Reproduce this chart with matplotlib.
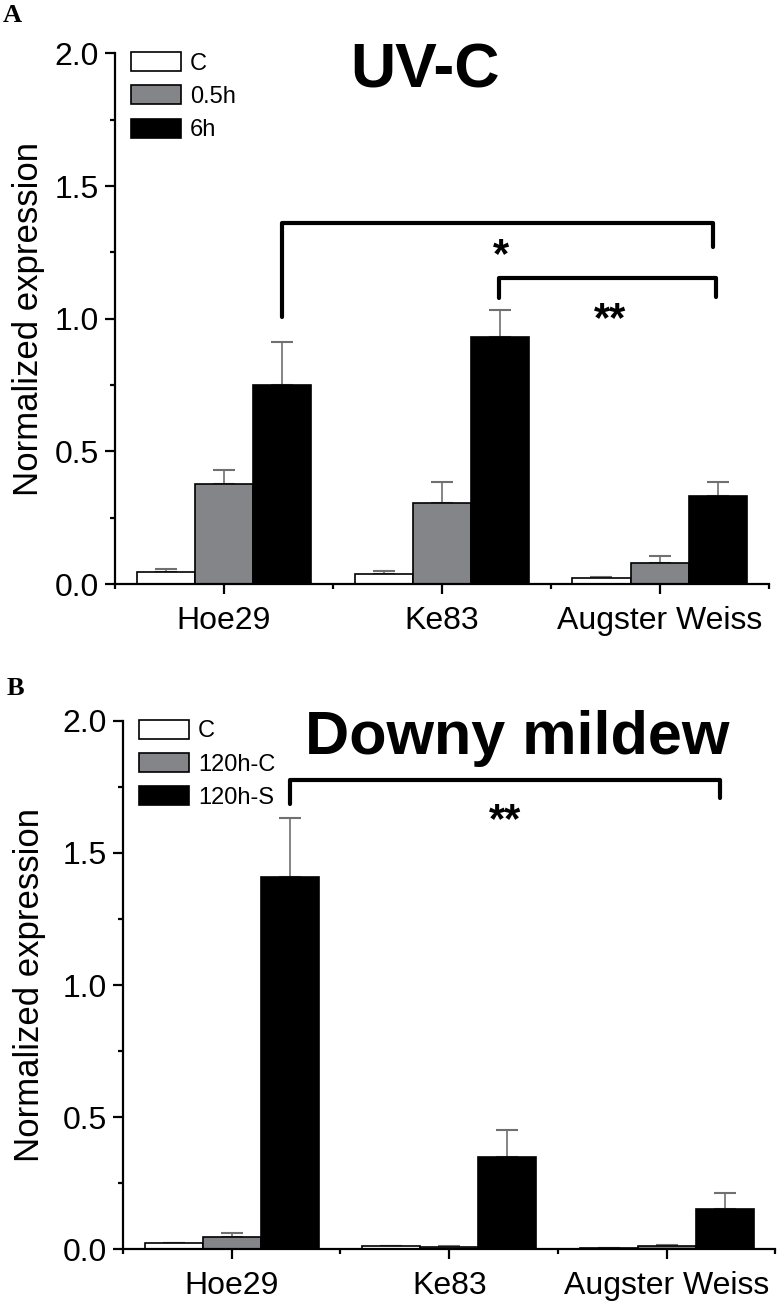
import numpy as np
import matplotlib
matplotlib.use('Agg')
import matplotlib.pyplot as plt
from matplotlib.ticker import MultipleLocator

plt.rcParams['font.family'] = ['Liberation Sans', 'DejaVu Sans']

categories = ['Hoe29', 'Ke83', 'Augster Weiss']

# panel A: UV-C
uvc_series = ['C', '0.5h', '6h']
uvc_mean = [[0.046, 0.039, 0.021],
            [0.376, 0.305, 0.078],
            [0.750, 0.930, 0.330]]
uvc_err = [[0.012, 0.011, 0.007],
           [0.054, 0.078, 0.026],
           [0.162, 0.103, 0.056]]

# panel B: downy mildew
dm_series = ['C', '120h-C', '120h-S']
dm_mean = [[0.024, 0.010, 0.005],
           [0.045, 0.007, 0.013],
           [1.410, 0.350, 0.152]]
dm_err = [[0.0, 0.0, 0.0],
          [0.016, 0.003, 0.002],
          [0.221, 0.100, 0.062]]

# significance brackets: (x_left, x_right, y_top, y_left_end, y_right_end, label, label_x, label_y)
uvc_brackets = [(0.267, 2.245, 1.362, 1.007, 1.271, '*', 1.274, 1.235),
                (1.262, 2.258, 1.152, 1.077, 1.083, '**', 1.772, 0.995)]
dm_brackets = [(0.267, 2.245, 1.777, 1.687, 1.71, '**', 1.257, 1.62)]

bar_colors = ['white', '#848589', 'black']
width = 0.267


def draw_panel(ax, means, errs, series, title, title_x, title_size, brackets):
    x = np.arange(len(categories))
    for i, (m, e) in enumerate(zip(means, errs)):
        pos = x + (i - 1) * width
        ax.bar(pos, m, width, color=bar_colors[i], edgecolor='black',
               linewidth=1.2, label=series[i], zorder=2)
        ax.errorbar(pos, m, yerr=[np.zeros(len(e)), e], fmt='none',
                    ecolor='#707070', elinewidth=1.2, capsize=8,
                    capthick=1.5, zorder=1)
    for xl, xr, yt, yl, yr, lab, lx, ly in brackets:
        ax.plot([xl, xl, xr, xr], [yl, yt, yt, yr], color='black',
                linewidth=3, solid_capstyle='round', zorder=3)
        ax.text(lx, ly, lab, ha='center', va='center', fontsize=30,
                fontweight='bold')
    ax.set_xlim(-0.5, 2.5)
    ax.set_ylim(0, 2.0)
    ax.set_xticks(x)
    ax.set_xticklabels(categories)
    ax.set_xticks([-0.5, 0.5, 1.5, 2.5], minor=True)
    ax.yaxis.set_major_locator(MultipleLocator(0.5))
    ax.yaxis.set_minor_locator(MultipleLocator(0.25))
    ax.yaxis.set_major_formatter(matplotlib.ticker.FormatStrFormatter('%.1f'))
    for s in ['top', 'right']:
        ax.spines[s].set_visible(False)
    for s in ['left', 'bottom']:
        ax.spines[s].set_linewidth(1.6)
    ax.tick_params(axis='both', which='major', direction='out', length=7.5,
                   width=1.6, labelsize=23, pad=4)
    ax.tick_params(axis='x', which='major', pad=8)
    ax.tick_params(axis='both', which='minor', direction='out', length=3.8,
                   width=1.6)
    ax.set_ylabel('Normalized expression', fontsize=25)
    ax.text(title_x, 0.967, title, transform=ax.transAxes, ha='left',
            va='center', fontsize=title_size, fontweight='bold')
    ax.legend(loc='upper left', bbox_to_anchor=(0.01, 1.02), frameon=False,
              fontsize=17, handlelength=2.1, handleheight=0.85,
              labelspacing=0.45, handletextpad=0.4, borderaxespad=0.0)


fig = plt.figure(figsize=(7.78, 13.13), dpi=100)
ax_a = fig.add_axes([0.1478, 0.5552, 0.8400, 0.4041])
ax_b = fig.add_axes([0.1581, 0.0487, 0.8386, 0.4022])

draw_panel(ax_a, uvc_mean, uvc_err, uvc_series, 'UV-C', 0.36, 45, uvc_brackets)
draw_panel(ax_b, dm_mean, dm_err, dm_series, 'Downy mildew', 0.279, 44,
           dm_brackets)
ax_a.yaxis.set_label_coords(-0.107, 0.5)
ax_b.yaxis.set_label_coords(-0.118, 0.5)

fig.text(0.004, 0.988, 'A', fontsize=19, fontweight='bold',
         family='Liberation Serif', va='center')
fig.text(0.008, 0.4755, 'B', fontsize=19, fontweight='bold',
         family='Liberation Serif', va='center')

fig.savefig('out.png', dpi=100)
